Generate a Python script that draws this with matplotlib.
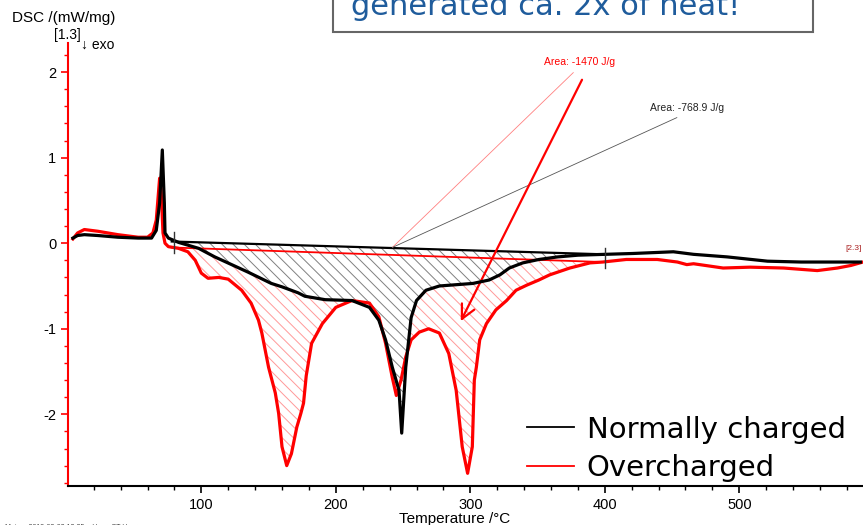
import numpy as np
import matplotlib.pyplot as plt
from matplotlib.patches import Rectangle

# temperature / DSC values
t_normal = [4.5, 8, 13, 23, 38, 53, 63, 66.5, 69, 71, 72.5, 73, 75.5, 83, 98, 110, 135, 152, 160, 172,
            177, 192, 212, 225, 232, 237, 242, 247, 249, 252, 256, 260, 267, 277, 302, 314, 322, 329,
            339, 351, 365, 380, 400, 421, 451, 466, 491, 521, 546, 590]
dsc_normal = [0.06, 0.09, 0.1, 0.09, 0.07, 0.06, 0.06, 0.15, 0.47, 1.09, 0.47, 0.12, 0.06, 0.01, -0.06,
              -0.16, -0.34, -0.47, -0.51, -0.58, -0.62, -0.66, -0.67, -0.75, -0.9, -1.13, -1.45, -1.72,
              -2.22, -1.45, -0.87, -0.67, -0.55, -0.5, -0.47, -0.43, -0.37, -0.29, -0.23, -0.19, -0.16,
              -0.14, -0.13, -0.12, -0.1, -0.13, -0.16, -0.21, -0.22, -0.22]

t_over = [4.5, 8, 13, 23, 38, 53, 60, 64, 66.5, 69, 70, 71.5, 73, 75.5, 83, 90, 95.5, 100, 105, 113,
          120, 130, 137, 142.5, 145, 150, 155, 157.5, 160, 163.5, 167, 171, 174, 176, 178, 182, 190,
          200, 212, 225, 232, 237, 242, 245, 248.5, 252, 256, 262, 269, 277, 284, 289.5, 294, 298,
          301.5, 303, 304.5, 307, 312, 319, 327, 334, 342, 351, 359, 374, 389, 398.5, 416, 439, 454,
          461, 466, 488, 508, 533, 558, 573, 583, 592]
dsc_over = [0.05, 0.12, 0.16, 0.14, 0.1, 0.07, 0.07, 0.12, 0.27, 0.76, 0.66, 0.12, 0.0, -0.04, -0.06,
            -0.1, -0.2, -0.35, -0.41, -0.4, -0.42, -0.55, -0.7, -0.9, -1.05, -1.45, -1.75, -1.99, -2.38,
            -2.6, -2.46, -2.15, -1.99, -1.87, -1.55, -1.17, -0.94, -0.75, -0.67, -0.7, -0.86, -1.17,
            -1.57, -1.78, -1.6, -1.33, -1.13, -1.04, -1.0, -1.05, -1.29, -1.72, -2.38, -2.69, -2.38,
            -1.6, -1.45, -1.13, -0.94, -0.78, -0.67, -0.55, -0.49, -0.43, -0.37, -0.29, -0.23, -0.22,
            -0.19, -0.19, -0.22, -0.25, -0.24, -0.29, -0.28, -0.29, -0.32, -0.29, -0.26, -0.22]

# integration limits and baselines
base_normal_t = [78, 400]
base_normal_y = [0.02, -0.13]
base_over_t = [78, 398.5]
base_over_y = [-0.05, -0.22]

area_normal = 'Area: -768.9 J/g'
area_over = 'Area: -1470 J/g'

plt.rcParams['hatch.linewidth'] = 0.7

fig = plt.figure(figsize=(8.63, 5.25), dpi=100)
ax = fig.add_axes([0.079, 0.074, 0.921, 0.844])

# hatched peak areas
to = np.linspace(base_over_t[0], base_over_t[1], 800)
yo = np.interp(to, t_over, dsc_over)
bo = np.interp(to, base_over_t, base_over_y)
ax.fill_between(to, yo, bo, where=yo <= bo, facecolor='none', edgecolor='#ff9999',
                hatch='\\\\\\', linewidth=0, zorder=1)
tn = np.linspace(base_normal_t[0], base_normal_t[1], 800)
yn = np.interp(tn, t_normal, dsc_normal)
bn = np.interp(tn, base_normal_t, base_normal_y)
ax.fill_between(tn, yn, bn, where=yn <= bn, facecolor='white', edgecolor='#808080',
                hatch='\\\\\\', linewidth=0, zorder=1.5)

ax.plot(base_over_t, base_over_y, color='red', lw=1.3, zorder=2)
ax.plot(base_normal_t, base_normal_y, color='black', lw=1.6, zorder=2)

ax.plot(t_over, dsc_over, color='red', lw=2.3, label='Overcharged', zorder=3)
ax.plot(t_normal, dsc_normal, color='black', lw=2.3, label='Normally charged', zorder=4)

# limit markers
ax.plot([80, 80], [-0.11, 0.13], color='#333333', lw=1, zorder=5)
ax.plot([400, 400], [-0.29, -0.06], color='#333333', lw=1, zorder=5)

# area labels with leader lines
ax.annotate(area_over, xy=(242, -0.05), xytext=(381, 2.12), color='red', fontsize=7.5,
            ha='center', va='center', family='Liberation Sans',
            arrowprops=dict(arrowstyle='-', color='#ff8080', lw=0.6, relpos=(0.5, 0.0),
                            shrinkA=3, shrinkB=0))
ax.annotate(area_normal, xy=(242, -0.05), xytext=(461, 1.58), color='#222222', fontsize=7.5,
            ha='center', va='center', family='Liberation Sans',
            arrowprops=dict(arrowstyle='-', color='#555555', lw=0.6, relpos=(0.5, 0.0),
                            shrinkA=3, shrinkB=0))
ax.annotate('', xy=(292, -0.94), xytext=(384, 1.94),
            arrowprops=dict(arrowstyle='->,head_length=1.0,head_width=0.5', color='red', lw=1.6))
ax.text(585, -0.08, '[2.3]', fontsize=6, color='#aa2222', ha='center', family='Liberation Sans')

ax.set_xlim(1, 592)
ax.set_ylim(-2.84, 2.34)
ax.set_xticks([100, 200, 300, 400, 500])
ax.set_xticks(np.arange(20, 592, 20), minor=True)
ax.set_yticks([-2, -1, 0, 1, 2])
ax.set_yticklabels(['-2', '-1', '0', '1', '2'])
ax.set_yticks(np.arange(-2.8, 2.4, 0.2), minor=True)
for s in ['top', 'right']:
    ax.spines[s].set_visible(False)
ax.spines['left'].set_color('red')
ax.spines['left'].set_linewidth(1.5)
ax.spines['bottom'].set_linewidth(1.5)
ax.tick_params(axis='y', which='both', colors='red', labelcolor='black', labelsize=10.5)
ax.tick_params(axis='y', which='major', length=5, width=1.2)
ax.tick_params(axis='y', which='minor', length=3, width=1)
ax.tick_params(axis='x', which='major', length=5, width=1.2, labelsize=10.5)
ax.tick_params(axis='x', which='minor', length=3, width=1)
for lab in ax.get_xticklabels() + ax.get_yticklabels():
    lab.set_family('Liberation Sans')

handles, labels = ax.get_legend_handles_labels()
leg = ax.legend(handles[::-1], labels[::-1], loc='lower right', bbox_to_anchor=(0.993, -0.018),
                frameon=False, fontsize=21, handlelength=1.6, handletextpad=0.45,
                labelspacing=0.37, borderpad=0.1, borderaxespad=0.3)
for line in leg.get_lines():
    line.set_linewidth(1.3)

fig.text(0.014, 0.965, 'DSC /(mW/mg)', fontsize=11, family='Liberation Sans', va='center')
fig.text(0.062, 0.933, '[1.3]', fontsize=10, family='Liberation Sans', va='center')
fig.text(0.094, 0.915, '\u2193 exo', fontsize=10, family='Liberation Sans', va='center')
fig.text(0.527, 0.012, 'Temperature /\u00b0C', fontsize=11, family='Liberation Sans', ha='center', va='center')
fig.text(0.006, -0.004, 'Main    2018-03-02 13:35    User: CT User', fontsize=5, family='Liberation Sans',
         color='#444444', va='center')

# slide call-out box cut at the top edge
fig.patches.append(Rectangle((0.386, 0.939), 0.556, 0.2, transform=fig.transFigure,
                             facecolor='white', edgecolor='#666666', lw=1.5))
fig.text(0.407, 0.971, 'generated ca. 2x of heat!', fontsize=22, color='#1f5c9c', va='baseline')

plt.savefig('out.png', dpi=100)
